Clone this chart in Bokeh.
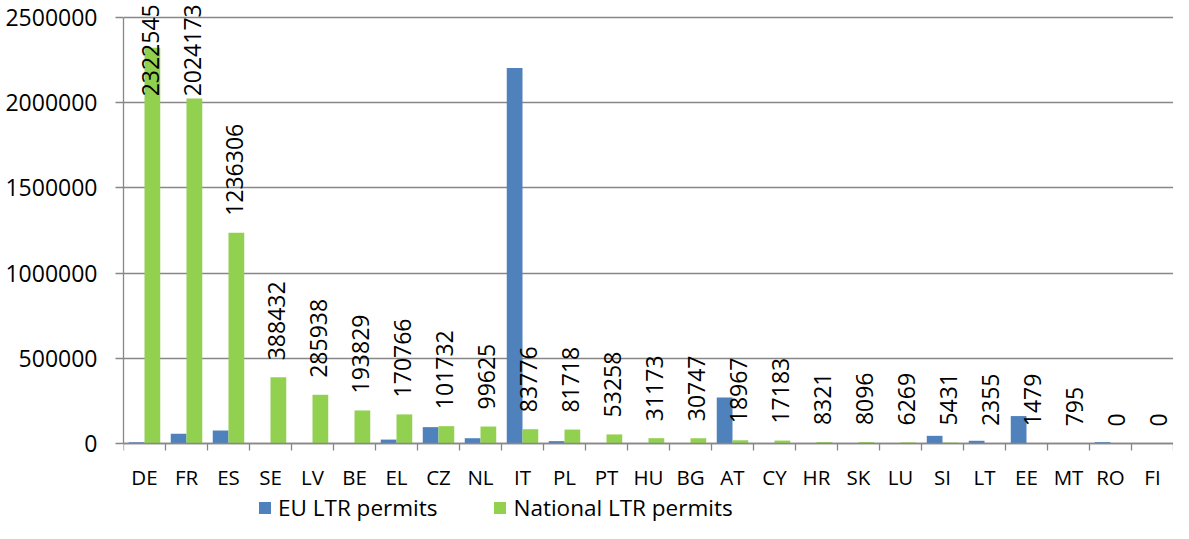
import numpy as np
from bokeh.plotting import figure
from bokeh.models import (ColumnDataSource, Range1d, FixedTicker, LabelSet, Legend, LegendItem)
from bokeh.core.properties import value
from bokeh.embed import file_html
from bokeh.resources import INLINE

categories = ["DE", "FR", "ES", "SE", "LV", "BE", "EL", "CZ", "NL", "IT", "PL", "PT", "HU",
              "BG", "AT", "CY", "HR", "SK", "LU", "SI", "LT", "EE", "MT", "RO", "FI"]
eu_ltr = [8000, 57000, 76000, 0, 0, 0, 23000, 96000, 31000, 2203000, 14000, 0, 0,
          0, 270000, 0, 0, 1500, 1200, 45000, 16000, 161000, 0, 8000, 0]
national_ltr = [2322545, 2024173, 1236306, 388432, 285938, 193829, 170766, 101732, 99625,
                83776, 81718, 53258, 31173, 30747, 18967, 17183, 8321, 8096, 6269, 5431,
                2355, 1479, 795, 0, 0]
y_ticks = [0, 500000, 1000000, 1500000, 2000000, 2500000]

FONT = "Open Sans"
GRID = "#878787"
BLUE = "#4F81BD"
GREEN = "#92D050"
BAR_W = 0.375

n = len(categories)
centers = np.arange(n) + 0.5
y_max = y_ticks[-1]
# frame spans the whole figure height; the axis sits at 0 and the legend below it
y_end = y_max * (1 + 17 / 426)
y_start = -y_max * (80 / 426)
label_cap = 0.775 * y_max           # keeps the tallest labels inside the chart area

src = ColumnDataSource(dict(
    x_eu=centers - BAR_W / 2,
    x_nat=centers + BAR_W / 2,
    eu=eu_ltr,
    nat=national_ltr,
    lab_y=np.minimum(np.array(national_ltr, dtype=float), label_cap),
    lab=[str(v) for v in national_ltr],
))

p = figure(width=1173, height=523, output_backend="svg", toolbar_location=None,
           x_range=Range1d(0, n), y_range=Range1d(y_start, y_end),
           min_border_left=123, min_border_right=0, min_border_top=0, min_border_bottom=0)
p.outline_line_color = None
p.background_fill_color = "white"
p.border_fill_color = "white"

r_eu = p.vbar(x="x_eu", top="eu", bottom=0, width=BAR_W, source=src, fill_color=BLUE, line_color=None)
r_nat = p.vbar(x="x_nat", top="nat", bottom=0, width=BAR_W, source=src, fill_color=GREEN, line_color=None)

labels = LabelSet(x="x_nat", y="lab_y", text="lab", source=src, angle=np.pi / 2,
                  text_align="left", text_baseline="middle", y_offset=17, x_offset=-2,
                  text_font=value(FONT), text_font_size="23px", text_color="black")
p.add_layout(labels)

# axes
p.xgrid.visible = False
p.ygrid.grid_line_color = GRID
p.ygrid.grid_line_width = 1.3
p.ygrid.ticker = FixedTicker(ticks=y_ticks)

ya = p.yaxis[0]
ya.ticker = FixedTicker(ticks=y_ticks)
ya.bounds = (0, y_max)
ya.major_label_overrides = {t: str(t) for t in y_ticks}
ya.axis_line_color = GRID
ya.axis_line_width = 1.3
ya.major_tick_line_color = GRID
ya.major_tick_line_width = 1.3
ya.major_tick_out = 8
ya.major_tick_in = 0
ya.minor_tick_line_color = None
ya.major_label_standoff = 18
ya.major_label_text_font = FONT
ya.major_label_text_font_size = "23px"
ya.major_label_text_color = "black"

xa = p.xaxis[0]
xa.fixed_location = 0
xa.ticker = FixedTicker(ticks=list(centers), minor_ticks=list(range(n + 1)))
xa.major_label_overrides = {float(c): cat for c, cat in zip(centers, categories)}
xa.axis_line_color = GRID
xa.axis_line_width = 1.3
xa.major_tick_line_color = None
xa.major_tick_out = 0
xa.major_tick_in = 0
xa.minor_tick_line_color = GRID
xa.minor_tick_line_width = 1.3
xa.minor_tick_out = 7
xa.minor_tick_in = 0
xa.major_label_standoff = 12
xa.major_label_text_font = FONT
xa.major_label_text_font_size = "20.5px"
xa.major_label_text_color = "black"

legend = Legend(items=[LegendItem(label="EU LTR permits", renderers=[r_eu]),
                       LegendItem(label="National LTR permits", renderers=[r_nat])],
                orientation="horizontal", location=(134, 0),
                glyph_width=15, glyph_height=15, label_standoff=6, spacing=55,
                padding=0, margin=0, border_line_color=None, background_fill_alpha=0,
                label_text_font=FONT, label_text_font_size="22.5px", label_text_color="black")
p.add_layout(legend, "center")

open("out.html", "w").write(file_html(p, INLINE))
